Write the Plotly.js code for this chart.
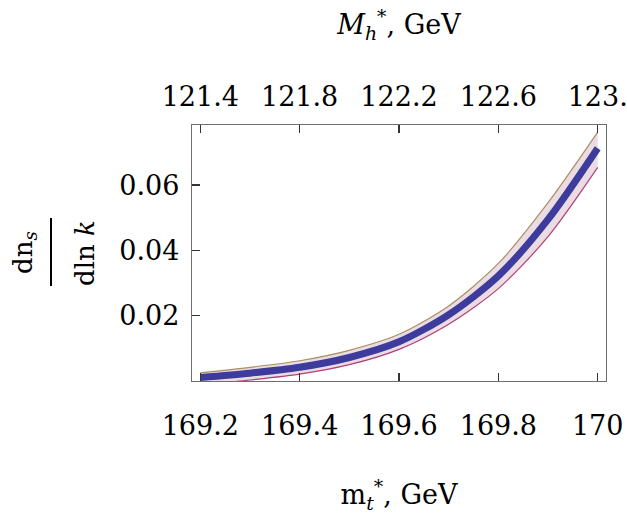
<!DOCTYPE html>
<html>
<head>
<meta charset="utf-8">
<script src="https://cdn.plot.ly/plotly-3.0.1.min.js"></script>
<style>html,body{margin:0;padding:0;background:#fff;}#chart{width:627px;height:514px;}</style>
</head>
<body>
<div id="chart"></div>
<script>
// Data
const mt = [169.2, 169.3, 169.4, 169.5, 169.6, 169.7, 169.8, 169.9, 170.0];
const center = [0.0011, 0.0024, 0.0042, 0.0072, 0.0120, 0.0203, 0.0322, 0.0495, 0.0713];
const upper = [0.0025, 0.0042, 0.0062, 0.0094, 0.0143, 0.0230, 0.0360, 0.0546, 0.0762];
const lower = [-0.0012, 0.0003, 0.0021, 0.0050, 0.0097, 0.0174, 0.0283, 0.0442, 0.0654];
const mtTicks = [169.2, 169.4, 169.6, 169.8, 170];
const mtTickText = ['169.2', '169.4', '169.6', '169.8', '170'];
const mhTicks = [121.4, 121.8, 122.2, 122.6, 123.0];
const mhTickText = ['121.4', '121.8', '122.2', '122.6', '123.'];
const yTicks = [0.02, 0.04, 0.06];
const yTickText = ['0.02', '0.04', '0.06'];

const W = 627, H = 514;
const M = {l: 192, r: 21, t: 125, b: 133};
const PW = W - M.l - M.r, PH = H - M.t - M.b;
const px = x => (x - M.l) / PW;
const py = y => (H - M.b - y) / PH;

const serif = 'DejaVu Serif';
const frameColor = '#6e6e6e';

const traces = [
  {x: mt, y: lower, mode: 'lines', line: {color: '#b0407a', width: 1.2, shape: 'spline', smoothing: 0.8}, hoverinfo: 'skip', showlegend: false},
  {x: mt, y: upper, mode: 'lines', fill: 'tonexty', fillcolor: 'rgba(225,200,212,0.65)', line: {color: '#a89060', width: 1.2, shape: 'spline', smoothing: 0.8}, hoverinfo: 'skip', showlegend: false},
  {x: mt, y: center, mode: 'lines', line: {color: '#3d3b9c', width: 7, shape: 'spline', smoothing: 0.8}, hoverinfo: 'skip', showlegend: false},
  {x: mhTicks, y: mhTicks.map(() => null), xaxis: 'x2', mode: 'lines', hoverinfo: 'skip', showlegend: false}
];

const axisCommon = {
  showgrid: false, zeroline: false, showline: true, linecolor: frameColor, linewidth: 1.2,
  ticks: 'inside', ticklen: 8, tickwidth: 1.2, tickcolor: '#333',
  ticklabeloverflow: 'allow',
  tickfont: {family: serif, size: 27, color: '#000'}
};

const layout = {
  width: W, height: H,
  margin: M,
  font: {family: serif, color: '#000'},
  paper_bgcolor: '#fff', plot_bgcolor: '#fff',
  showlegend: false,
  xaxis: Object.assign({}, axisCommon, {
    range: [169.1833, 170.0167], tickvals: mtTicks, ticktext: mtTickText, mirror: true,
    ticklabelstandoff: 20,
    title: {text: 'm<sub><i>t</i></sub><sup>*</sup>, GeV', font: {family: serif, size: 27, color: '#000'}, standoff: 45}
  }),
  xaxis2: Object.assign({}, axisCommon, {
    overlaying: 'x', side: 'top', anchor: 'y',
    range: [121.3667, 123.0333], tickvals: mhTicks, ticktext: mhTickText,
    ticklabelstandoff: 7,
    title: {text: '<i>M</i><sub><i>h</i></sub><sup>*</sup>, GeV', font: {family: serif, size: 27, color: '#000'}, standoff: 38}
  }),
  yaxis: Object.assign({}, axisCommon, {
    range: [0, 0.0784], tickvals: yTicks, ticktext: yTickText, mirror: true,
    ticklabelstandoff: 6
  }),
  annotations: [
    {xref: 'paper', yref: 'paper', x: px(24), y: py(253), text: 'dn<sub><i>s</i></sub>', textangle: -90, showarrow: false, xanchor: 'center', yanchor: 'middle', font: {family: serif, size: 26, color: '#000'}},
    {xref: 'paper', yref: 'paper', x: px(85), y: py(253), text: 'dln <i>k</i>', textangle: -90, showarrow: false, xanchor: 'center', yanchor: 'middle', font: {family: serif, size: 26, color: '#000'}}
  ],
  shapes: [
    {type: 'line', xref: 'paper', yref: 'paper', x0: px(51), x1: px(51), y0: py(218), y1: py(286), line: {color: '#000', width: 2}}
  ]
};

Plotly.newPlot('chart', traces, layout, {staticPlot: true, displayModeBar: false});
</script>
</body>
</html>
